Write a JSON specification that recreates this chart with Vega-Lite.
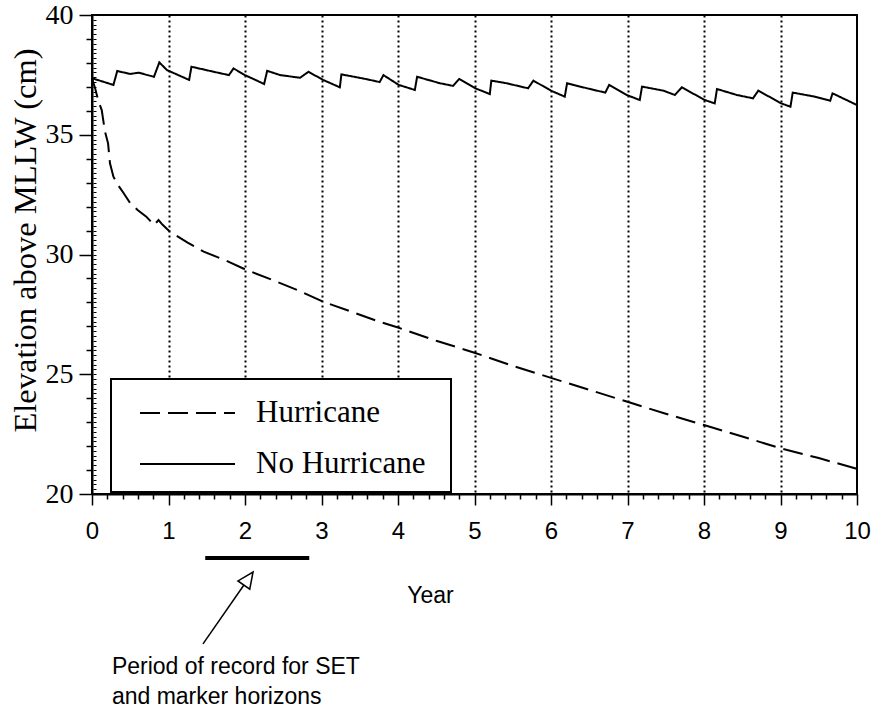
{
  "$schema": "https://vega.github.io/schema/vega-lite/v6.json",
  "width": 765,
  "height": 479,
  "autosize": {"type": "none"},
  "padding": {"left": 92, "top": 15, "right": 17, "bottom": 218},
  "background": "white",
  "config": {
    "view": {"stroke": "black", "strokeWidth": 2},
    "axis": {"domainColor": "black", "domainWidth": 2, "tickColor": "black", "tickWidth": 1.5, "labelColor": "black", "titleColor": "black", "titleFontWeight": "normal"}
  },
  "resolve": {"axis": {"y": "independent"}},
  "datasets": {
    "curves": [
      {"series": "No Hurricane", "year": 0, "value": 37.36},
      {"series": "No Hurricane", "year": 0.28, "value": 37.08},
      {"series": "No Hurricane", "year": 0.33, "value": 37.66},
      {"series": "No Hurricane", "year": 0.5, "value": 37.54},
      {"series": "No Hurricane", "year": 0.61, "value": 37.59},
      {"series": "No Hurricane", "year": 0.81, "value": 37.42},
      {"series": "No Hurricane", "year": 0.88, "value": 38.02},
      {"series": "No Hurricane", "year": 0.98, "value": 37.7},
      {"series": "No Hurricane", "year": 1.27, "value": 37.29},
      {"series": "No Hurricane", "year": 1.3, "value": 37.84},
      {"series": "No Hurricane", "year": 1.59, "value": 37.63},
      {"series": "No Hurricane", "year": 1.79, "value": 37.49},
      {"series": "No Hurricane", "year": 1.85, "value": 37.77},
      {"series": "No Hurricane", "year": 2.0, "value": 37.49},
      {"series": "No Hurricane", "year": 2.25, "value": 37.12},
      {"series": "No Hurricane", "year": 2.29, "value": 37.67},
      {"series": "No Hurricane", "year": 2.46, "value": 37.49},
      {"series": "No Hurricane", "year": 2.72, "value": 37.38},
      {"series": "No Hurricane", "year": 2.83, "value": 37.63},
      {"series": "No Hurricane", "year": 3.02, "value": 37.29},
      {"series": "No Hurricane", "year": 3.24, "value": 36.98},
      {"series": "No Hurricane", "year": 3.26, "value": 37.52},
      {"series": "No Hurricane", "year": 3.46, "value": 37.4},
      {"series": "No Hurricane", "year": 3.59, "value": 37.32},
      {"series": "No Hurricane", "year": 3.76, "value": 37.2},
      {"series": "No Hurricane", "year": 3.81, "value": 37.49},
      {"series": "No Hurricane", "year": 4.01, "value": 37.08},
      {"series": "No Hurricane", "year": 4.22, "value": 36.87},
      {"series": "No Hurricane", "year": 4.25, "value": 37.42},
      {"series": "No Hurricane", "year": 4.55, "value": 37.15},
      {"series": "No Hurricane", "year": 4.72, "value": 37.04},
      {"series": "No Hurricane", "year": 4.8, "value": 37.33},
      {"series": "No Hurricane", "year": 5.01, "value": 36.94},
      {"series": "No Hurricane", "year": 5.2, "value": 36.7},
      {"series": "No Hurricane", "year": 5.22, "value": 37.26},
      {"series": "No Hurricane", "year": 5.42, "value": 37.15},
      {"series": "No Hurricane", "year": 5.7, "value": 36.94},
      {"series": "No Hurricane", "year": 5.77, "value": 37.26},
      {"series": "No Hurricane", "year": 6.0, "value": 36.84},
      {"series": "No Hurricane", "year": 6.18, "value": 36.59},
      {"series": "No Hurricane", "year": 6.21, "value": 37.15},
      {"series": "No Hurricane", "year": 6.47, "value": 36.94},
      {"series": "No Hurricane", "year": 6.71, "value": 36.76},
      {"series": "No Hurricane", "year": 6.76, "value": 37.08},
      {"series": "No Hurricane", "year": 6.99, "value": 36.66},
      {"series": "No Hurricane", "year": 7.16, "value": 36.45},
      {"series": "No Hurricane", "year": 7.19, "value": 37.01},
      {"series": "No Hurricane", "year": 7.47, "value": 36.84},
      {"series": "No Hurricane", "year": 7.62, "value": 36.66},
      {"series": "No Hurricane", "year": 7.71, "value": 36.98},
      {"series": "No Hurricane", "year": 8.01, "value": 36.45},
      {"series": "No Hurricane", "year": 8.14, "value": 36.31},
      {"series": "No Hurricane", "year": 8.17, "value": 36.91},
      {"series": "No Hurricane", "year": 8.43, "value": 36.66},
      {"series": "No Hurricane", "year": 8.64, "value": 36.52},
      {"series": "No Hurricane", "year": 8.71, "value": 36.84},
      {"series": "No Hurricane", "year": 9.01, "value": 36.31},
      {"series": "No Hurricane", "year": 9.13, "value": 36.17},
      {"series": "No Hurricane", "year": 9.16, "value": 36.76},
      {"series": "No Hurricane", "year": 9.45, "value": 36.59},
      {"series": "No Hurricane", "year": 9.65, "value": 36.42},
      {"series": "No Hurricane", "year": 9.68, "value": 36.73},
      {"series": "No Hurricane", "year": 10.0, "value": 36.24},
      {"series": "Hurricane", "year": 0, "value": 37.36},
      {"series": "Hurricane", "year": 0.04, "value": 36.95},
      {"series": "Hurricane", "year": 0.08, "value": 36.45},
      {"series": "Hurricane", "year": 0.127, "value": 36.03},
      {"series": "Hurricane", "year": 0.17, "value": 35.13},
      {"series": "Hurricane", "year": 0.21, "value": 34.64},
      {"series": "Hurricane", "year": 0.235, "value": 33.81},
      {"series": "Hurricane", "year": 0.28, "value": 33.25},
      {"series": "Hurricane", "year": 0.34, "value": 32.9},
      {"series": "Hurricane", "year": 0.41, "value": 32.58},
      {"series": "Hurricane", "year": 0.5, "value": 32.14},
      {"series": "Hurricane", "year": 0.6, "value": 31.85},
      {"series": "Hurricane", "year": 0.71, "value": 31.58},
      {"series": "Hurricane", "year": 0.81, "value": 31.23},
      {"series": "Hurricane", "year": 0.87, "value": 31.44},
      {"series": "Hurricane", "year": 0.92, "value": 31.25},
      {"series": "Hurricane", "year": 1.02, "value": 30.95},
      {"series": "Hurricane", "year": 1.25, "value": 30.5},
      {"series": "Hurricane", "year": 1.46, "value": 30.12},
      {"series": "Hurricane", "year": 1.75, "value": 29.75},
      {"series": "Hurricane", "year": 2.0, "value": 29.38},
      {"series": "Hurricane", "year": 2.35, "value": 28.95},
      {"series": "Hurricane", "year": 2.68, "value": 28.52},
      {"series": "Hurricane", "year": 3.02, "value": 28.03},
      {"series": "Hurricane", "year": 3.4, "value": 27.6},
      {"series": "Hurricane", "year": 3.76, "value": 27.19},
      {"series": "Hurricane", "year": 4.0, "value": 26.95},
      {"series": "Hurricane", "year": 4.5, "value": 26.4},
      {"series": "Hurricane", "year": 5.0, "value": 25.9},
      {"series": "Hurricane", "year": 5.5, "value": 25.35},
      {"series": "Hurricane", "year": 6.0, "value": 24.85},
      {"series": "Hurricane", "year": 6.5, "value": 24.35},
      {"series": "Hurricane", "year": 7.0, "value": 23.85},
      {"series": "Hurricane", "year": 7.5, "value": 23.35},
      {"series": "Hurricane", "year": 8.0, "value": 22.88},
      {"series": "Hurricane", "year": 8.5, "value": 22.4},
      {"series": "Hurricane", "year": 9.0, "value": 21.91},
      {"series": "Hurricane", "year": 9.5, "value": 21.5},
      {"series": "Hurricane", "year": 10.0, "value": 21.05}
    ],
    "period": [{"year": 1.48, "year2": 2.84, "value": 17.33}],
    "arrow": [{"year": 1.451, "value": 13.74, "year2": 1.986, "value2": 16.2}],
    "arrowhead": [{"year": 2.045, "value": 16.47}],
    "note": [
      {"year": 0.26, "value": 12.78, "text": "Period of record for SET"},
      {"year": 0.26, "value": 11.52, "text": "and marker horizons"}
    ]
  },
  "layer": [
    {
      "data": {"name": "curves"},
      "mark": {"type": "line", "color": "black", "strokeWidth": 2, "clip": true},
      "encoding": {
        "x": {
          "field": "year", "type": "quantitative",
          "scale": {"domain": [0, 10], "nice": false, "zero": false},
          "axis": {
            "title": "Year",
            "values": [0,0.2,0.4,0.6,0.8,1,1.2,1.4,1.6,1.8,2,2.2,2.4,2.6,2.8,3,3.2,3.4,3.6,3.8,4,4.2,4.4,4.6,4.8,5,5.2,5.4,5.6,5.8,6,6.2,6.4,6.6,6.8,7,7.2,7.4,7.6,7.8,8,8.2,8.4,8.6,8.8,9,9.2,9.4,9.6,9.8,10],
            "tickCount": 100,
            "tickSize": {"condition": {"test": "datum.value % 1 === 0", "value": 11}, "value": 5},
            "labelExpr": "datum.value % 1 === 0 ? format(datum.value, 'd') : ''",
            "labelOverlap": false,
            "labelFlush": false,
            "labelFont": "Liberation Sans",
            "labelFontSize": 24,
            "labelPadding": 14,
            "grid": true,
            "gridColor": "black",
            "gridWidth": 2,
            "gridDash": [2, 3],
            "gridOpacity": {"condition": {"test": "datum.value % 1 === 0 && datum.value > 0 && datum.value < 10", "value": 1}, "value": 0},
            "titleFont": "Liberation Sans",
            "titleFontSize": 23,
            "titleX": 338,
            "titleY": 101,
            "titleBaseline": "middle",
            "titleAlign": "center"
          }
        },
        "y": {
          "field": "value", "type": "quantitative",
          "scale": {"domain": [20, 40], "nice": false, "zero": false},
          "axis": {
            "orient": "left",
            "title": "Elevation above MLLW (cm)",
            "values": [20,21,22,23,24,25,26,27,28,29,30,31,32,33,34,35,36,37,38,39,40],
            "tickCount": 100,
            "tickSize": {"condition": {"test": "datum.value % 5 === 0", "value": 13}, "value": 6},
            "labelExpr": "datum.value % 5 === 0 ? format(datum.value, 'd') : ''",
            "labelOverlap": false,
            "labelFlush": false,
            "labelFont": "Liberation Serif",
            "labelFontSize": 28,
            "labelPadding": 6,
            "grid": false,
            "titleFont": "Liberation Serif",
            "titleFontSize": 32.5,
            "titleX": -67,
            "titleY": 225,
            "titleAngle": -90,
            "titleAlign": "center",
            "titleBaseline": "middle"
          }
        },
        "strokeDash": {
          "field": "series", "type": "nominal",
          "scale": {"domain": ["Hurricane", "No Hurricane"], "range": [[20, 8], [1, 0]]},
          "legend": {
            "title": "\u00a0",
            "titleOrient": "right",
            "titleFontSize": 2,
            "titlePadding": 12,
            "orient": "none",
            "legendX": 19,
            "legendY": 364,
            "fillColor": "white",
            "strokeColor": "black",
            "padding": 13,
            "rowPadding": 15,
            "symbolType": "M-1,0H3.75",
            "symbolSize": 1600,
            "symbolStrokeWidth": 2,
            "symbolStrokeColor": "black",
            "symbolFillColor": "transparent",
            "symbolOffset": 15,
            "labelOffset": 75,
            "labelFont": "Liberation Serif",
            "labelFontSize": 31,
            "labelColor": "black",
            "labelLimit": 400,
            "encode": {"legend": {"update": {"strokeWidth": {"value": 2}}}}
          }
        }
      }
    },
    {
      "data": {"name": "period"},
      "mark": {"type": "rule", "color": "black", "strokeWidth": 4, "clip": false},
      "encoding": {
        "x": {"field": "year", "type": "quantitative"},
        "x2": {"field": "year2"},
        "y": {"field": "value", "type": "quantitative", "axis": null}
      }
    },
    {
      "data": {"name": "arrow"},
      "mark": {"type": "rule", "color": "black", "strokeWidth": 1.5, "clip": false},
      "encoding": {
        "x": {"field": "year", "type": "quantitative"},
        "x2": {"field": "year2"},
        "y": {"field": "value", "type": "quantitative", "axis": null},
        "y2": {"field": "value2"}
      }
    },
    {
      "data": {"name": "arrowhead"},
      "mark": {"type": "point", "shape": "M0,-1L0.9,1L-0.9,1Z", "size": 256, "angle": 35, "filled": true, "fill": "white", "stroke": "black", "strokeWidth": 1.5, "opacity": 1, "clip": false},
      "encoding": {
        "x": {"field": "year", "type": "quantitative"},
        "y": {"field": "value", "type": "quantitative", "axis": null}
      }
    },
    {
      "data": {"name": "note"},
      "mark": {"type": "text", "align": "left", "baseline": "middle", "font": "Liberation Sans", "fontSize": 23, "color": "black", "clip": false},
      "encoding": {
        "x": {"field": "year", "type": "quantitative"},
        "y": {
          "field": "value", "type": "quantitative",
          "axis": {
            "orient": "left",
            "title": null,
            "values": [20,20.2,20.4,20.6,20.8,21,21.2,21.4,21.6,21.8,22,22.2,22.4,22.6,22.8,23,23.2,23.4,23.6,23.8,24,24.2,24.4,24.6,24.8,25,25.2,25.4,25.6,25.8,26,26.2,26.4,26.6,26.8,27,27.2,27.4,27.6,27.8,28,28.2,28.4,28.6,28.8,29,29.2,29.4,29.6,29.8,30,30.2,30.4,30.6,30.8,31,31.2,31.4,31.6,31.8,32,32.2,32.4,32.6,32.8,33,33.2,33.4,33.6,33.8,34,34.2,34.4,34.6,34.8,35,35.2,35.4,35.6,35.8,36,36.2,36.4,36.6,36.8,37,37.2,37.4,37.6,37.8,38,38.2,38.4,38.6,38.8,39,39.2,39.4,39.6,39.8,40],
            "tickCount": 200,
            "tickSize": 3,
            "tickWidth": 1,
            "offset": -4,
            "domain": false,
            "labels": false,
            "grid": false
          }
        },
        "text": {"field": "text", "type": "nominal"}
      }
    }
  ]
}
